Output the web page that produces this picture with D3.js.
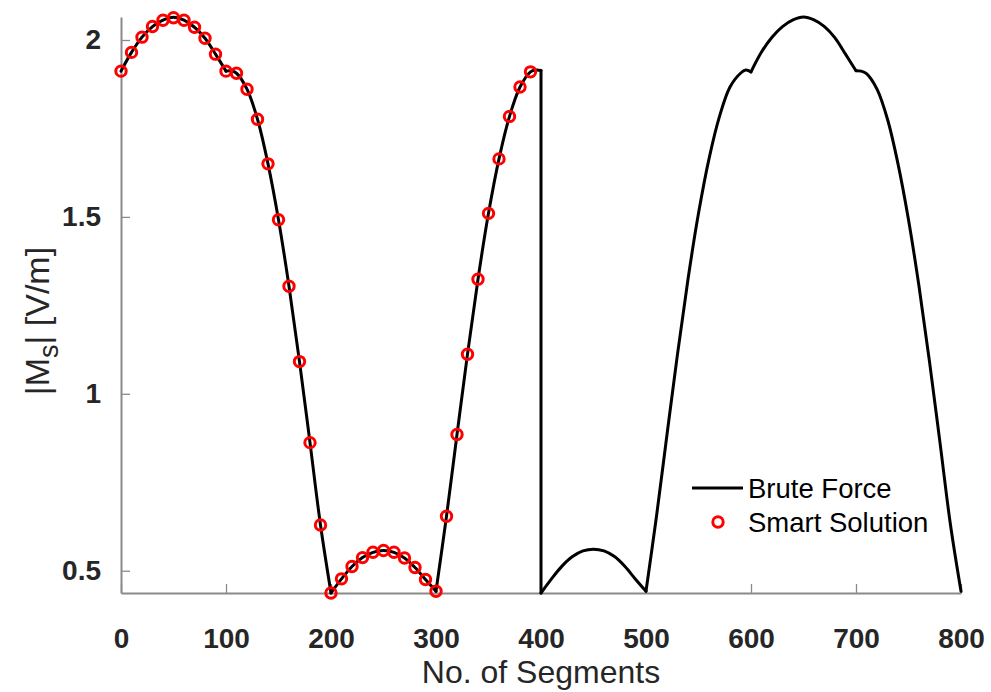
<!DOCTYPE html>
<html>
<head>
<meta charset="utf-8">
<script src="https://cdn.jsdelivr.net/npm/d3@7"></script>
<style>
  html, body { margin: 0; padding: 0; background: #fff; }
  svg { display: block; }
</style>
</head>
<body>
<script>
// ---------- data ----------
const smartX = [0,10,20,30,40,50,60,70,80,90,100,110,120,130,140,150,160,170,180,190,
                200,210,220,230,240,250,260,270,280,290,300,310,320,330,340,350,360,370,380,390];
const smartY = [1.912,1.965,2.008,2.038,2.056,2.063,2.056,2.036,2.005,1.960,
                1.912,1.906,1.861,1.776,1.650,1.492,1.304,1.091,0.862,0.629,
                0.437,0.477,0.512,0.537,0.552,0.557,0.552,0.536,0.509,0.475,
                0.442,0.654,0.885,1.112,1.324,1.510,1.664,1.784,1.867,1.910];

const bruteX = [0,10,20,30,40,50,60,70,80,90,100,105,110,120,130,140,150,160,170,180,190,
                200,210,220,230,240,250,260,270,280,290,300,310,320,330,340,350,360,370,380,390,395,400,
                400,410,420,430,440,450,460,470,480,490,500,510,520,530,540,550,560,570,580,590,595,600,
                610,620,630,640,650,660,670,680,690,700,705,710,720,730,740,750,760,770,780,790,800];
const bruteY = [1.912,1.965,2.008,2.038,2.056,2.064,2.056,2.036,2.005,1.960,1.912,1.913,1.906,1.861,1.776,1.650,1.492,1.304,1.091,0.862,0.629,
                0.437,0.477,0.512,0.537,0.552,0.557,0.552,0.536,0.509,0.475,0.442,0.654,0.885,1.112,1.324,1.510,1.664,1.784,1.867,1.910,1.915,1.914,
                0.437,0.477,0.513,0.540,0.556,0.561,0.556,0.540,0.512,0.476,0.442,0.654,0.885,1.112,1.324,1.510,1.664,1.784,1.867,1.906,1.915,1.910,
                1.966,2.008,2.038,2.057,2.065,2.057,2.038,2.006,1.960,1.913,1.912,1.905,1.861,1.776,1.650,1.492,1.304,1.091,0.862,0.629,0.442];
const kinks = [100,200,300,400,500,600,700];

const xTicks = [0,100,200,300,400,500,600,700,800];
const yTicks = [0.5,1,1.5,2];
const xLabel = "No. of Segments";
const legendLabels = ["Brute Force","Smart Solution"];

// ---------- layout ----------
const W = 991, H = 692;
const mLeft = 121, mRight = 961, mTop = 17, mBottom = 593;
const axisColor = "#8a8a8a", textColor = "#262626";
const FONT = "'Liberation Sans', Arial, Helvetica, sans-serif";

const svg = d3.select("body").append("svg").attr("width", W).attr("height", H);

const x = d3.scaleLinear().domain([0, 800]).range([mLeft, mRight]);
const yMin = d3.min(bruteY.concat(smartY)), yMax = d3.max(bruteY.concat(smartY));
const y = d3.scaleLinear().domain([yMin, yMax]).range([mBottom, mTop]);

// axes
const xAxis = d3.axisBottom(x).tickValues(xTicks).tickSizeInner(-9).tickSizeOuter(0).tickPadding(35).tickFormat(d3.format("d"));
const yAxis = d3.axisLeft(y).tickValues(yTicks).tickSizeInner(-9).tickSizeOuter(0).tickPadding(20).tickFormat(d => String(d));

const gx = svg.append("g").attr("transform", `translate(0,${mBottom})`).call(xAxis);
const gy = svg.append("g").attr("transform", `translate(${mLeft},0)`).call(yAxis);
[gx, gy].forEach(g => {
  g.select(".domain").attr("stroke", axisColor).attr("stroke-width", 2);
  g.selectAll(".tick line").attr("stroke", axisColor).attr("stroke-width", 1.3);
  g.selectAll(".tick text").attr("fill", textColor)
    .style("font-family", FONT)
    .style("font-weight", "bold").style("font-size", "28px");
});
gx.selectAll(".tick text").attr("dy", "0.71em");

// brute force line, split at kinks
const pieces = [];
let cur = [];
for (let i = 0; i < bruteX.length; i++) {
  cur.push([bruteX[i], bruteY[i]]);
  if (kinks.includes(bruteX[i]) && cur.length > 1) {
    pieces.push(cur);
    cur = [[bruteX[i], bruteY[i]]];
  }
}
if (cur.length > 1) pieces.push(cur);

const line = d3.line().x(d => x(d[0])).y(d => y(d[1])).curve(d3.curveCatmullRom.alpha(0.5));
svg.append("g").selectAll("path").data(pieces).join("path")
  .attr("d", line).attr("fill", "none").attr("stroke", "#000")
  .attr("stroke-width", 3).attr("stroke-linejoin", "round").attr("stroke-linecap", "round");

// smart solution markers
svg.append("g").selectAll("circle").data(smartX.map((v, i) => [v, smartY[i]])).join("circle")
  .attr("cx", d => x(d[0])).attr("cy", d => y(d[1])).attr("r", 5.2)
  .attr("fill", "none").attr("stroke", "#ff0000").attr("stroke-width", 3);

// axis labels
svg.append("text").attr("x", (mLeft + mRight) / 2).attr("y", 683)
  .attr("text-anchor", "middle").attr("fill", textColor)
  .style("font-family", FONT).style("font-size", "32px")
  .text(xLabel);

const yl = svg.append("text").attr("transform", "translate(49,321) rotate(-90)")
  .attr("text-anchor", "middle").attr("fill", textColor)
  .style("font-family", FONT).style("font-size", "34px");
yl.append("tspan").text("|M");
yl.append("tspan").attr("dy", 9).style("font-size", "27px").text("s");
yl.append("tspan").attr("dy", -9).text("| [V/m]");

// legend
const lg = svg.append("g");
lg.append("line").attr("x1", 692).attr("x2", 743).attr("y1", 488).attr("y2", 488)
  .attr("stroke", "#000").attr("stroke-width", 3);
lg.append("circle").attr("cx", 718).attr("cy", 522).attr("r", 5.2)
  .attr("fill", "none").attr("stroke", "#ff0000").attr("stroke-width", 3);
lg.selectAll("text").data(legendLabels).join("text")
  .attr("x", 748).attr("y", (d, i) => 498 + i * 34)
  .attr("fill", "#000")
  .style("font-family", FONT).style("font-size", "27.5px")
  .text(d => d);
</script>
</body>
</html>
